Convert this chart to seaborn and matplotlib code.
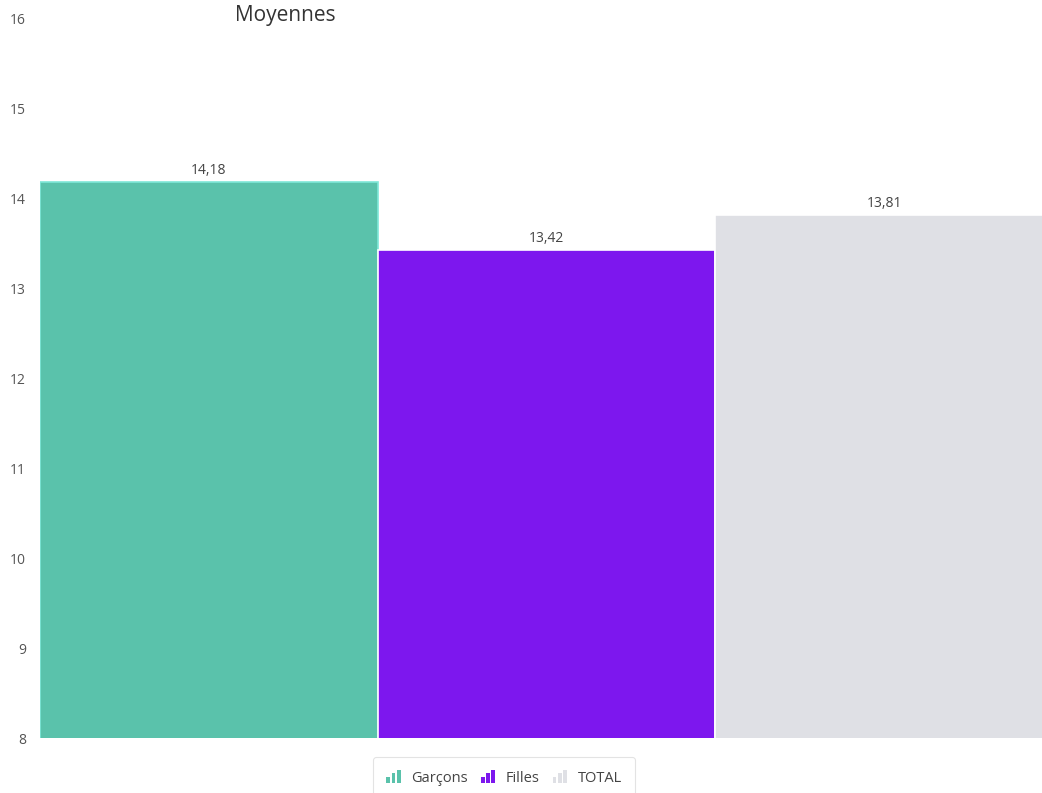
import pandas as pd
import seaborn as sns
from matplotlib import pyplot as plt
from matplotlib.patches import Rectangle
from matplotlib.legend_handler import HandlerBase

# data
groups = ["Garçons", "Filles", "TOTAL"]
moyennes = [14.18, 13.42, 13.81]
labels = ["14,18", "13,42", "13,81"]
colors = ["#5AC2AB", "#7D17EE", "#DFE0E5"]
edges = ["#7FE8D8", "#FFFFFF", "#FFFFFF"]
yticks = [8, 9, 10, 11, 12, 13, 14, 15, 16]

df = pd.DataFrame({"groupe": groups, "moyenne": moyennes})


class BarIconHandler(HandlerBase):
    # little "bar chart" icon like the one in the reference legend
    def create_artists(self, legend, orig_handle, xdescent, ydescent,
                       width, height, fontsize, trans):
        c = orig_handle.get_facecolor()
        w = width / 4.0
        arts = []
        for i, frac in enumerate([0.45, 0.75, 1.05]):
            r = Rectangle((i * w * 1.45 - xdescent, -ydescent), w, height * frac,
                          facecolor=c, edgecolor="none", transform=trans)
            arts.append(r)
        return arts


sns.set_style("white")
plt.rcParams['font.family'] = ['Open Sans', 'DejaVu Sans']

fig = plt.figure(figsize=(10.42, 7.93), dpi=100)
ax = fig.add_axes([40 / 1042, 55 / 793, 1013 / 1042, 720 / 793])

sns.barplot(data=df, x="groupe", y="moyenne", hue="groupe", palette=colors,
            width=1.0, legend=False, ax=ax, saturation=1)

# bar edges and value labels
for patch, ec in zip(ax.patches, edges):
    patch.set_edgecolor(ec)
    patch.set_linewidth(1.2)
for cont, lab in zip(ax.containers, labels):
    ax.bar_label(cont, labels=[lab], padding=3, fontsize=10, color="#444444")

ax.set_ylim(8, 16)
ax.set_xlim(-0.5, 2.5)
ax.set_yticks(yticks)
ax.set_yticklabels([str(t) for t in yticks], fontsize=10, color="#555555")
ax.tick_params(axis="y", length=0, pad=10)
ax.set_xticks([])
ax.set_xlabel("")
ax.set_ylabel("")
sns.despine(ax=ax, left=True, bottom=True, top=True, right=True)

# title
fig.text(285 / 1042, 1 - 16 / 793, "Moyennes", fontsize=15, color="#333333",
         ha="center", va="center")

# legend below the plot, cut by the bottom edge as in the reference
handles = [Rectangle((0, 0), 1, 1, facecolor=c, edgecolor="none") for c in colors]
leg = fig.legend(handles, groups, loc="upper center",
                 bbox_to_anchor=(504 / 1042, 1 - 750 / 793),
                 ncol=3, frameon=True, fontsize=10.5, handlelength=1.0, handleheight=0.9,
                 handletextpad=0.7, columnspacing=0.9, borderpad=0.9, fancybox=True,
                 handler_map={Rectangle: BarIconHandler()})
leg.get_frame().set_edgecolor("#DDDDDD")
leg.get_frame().set_linewidth(0.8)
for t in leg.get_texts():
    t.set_color("#444444")

fig.savefig("out.png", dpi=100)
